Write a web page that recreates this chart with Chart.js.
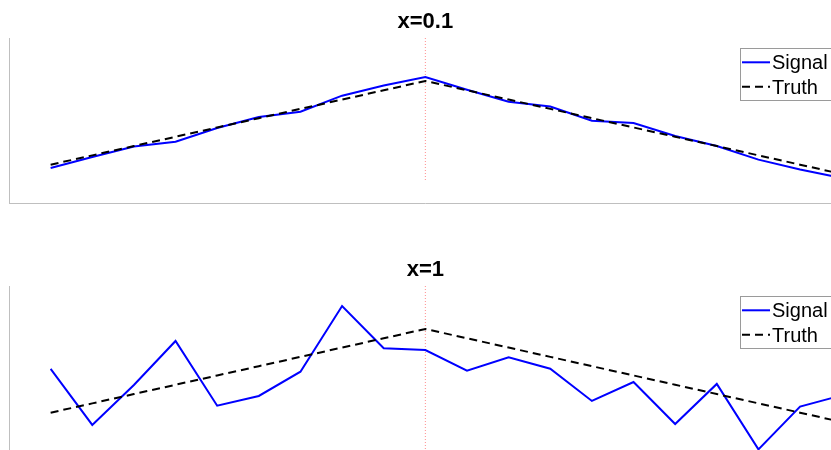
<!DOCTYPE html>
<html>
<head>
<meta charset="utf-8">
<script src="https://cdn.jsdelivr.net/npm/chart.js@4.4.1/dist/chart.umd.min.js"></script>
<style>
  html, body { margin: 0; padding: 0; background: #fff; overflow: hidden; width: 831px; height: 450px; }
  canvas.panel { position: absolute; left: 0; }
</style>
</head>
<body>
<canvas id="panelFine" class="panel" width="860" height="215" style="top:0px"></canvas>
<canvas id="panelCoarse" class="panel" width="860" height="215" style="top:248px"></canvas>
<script>
// Sample positions shared by both panels
const positions = [-9, -8, -7, -6, -5, -4, -3, -2, -1, 0, 1, 2, 3, 4, 5, 6, 7, 8, 9, 10];

// Noise-free reference profile (triangle peaking at 0)
const truth = [0.1, 0.2, 0.3, 0.4, 0.5, 0.6, 0.7, 0.8, 0.9, 1.0, 0.9, 0.8, 0.7, 0.6, 0.5, 0.4, 0.3, 0.2, 0.1, 0.0];

// Measured signal, low noise (x=0.1)
const signalFine = [0.065, 0.183, 0.296, 0.347, 0.495, 0.613, 0.670, 0.842, 0.952, 1.043,
                    0.906, 0.777, 0.726, 0.572, 0.548, 0.409, 0.301, 0.154, 0.048, -0.043];

// Measured signal, high noise (x=1)
const signalCoarse = [0.570, -0.032, 0.398, 0.871, 0.175, 0.280, 0.541, 1.247, 0.792, 0.774,
                      0.552, 0.696, 0.573, 0.226, 0.430, -0.022, 0.409, -0.294, 0.165, 0.286];

const panelTitles = ['x=0.1', 'x=1'];
const legendLabels = ['Signal', 'Truth'];

// Axis limits
const xRange = [-10, 10];
const yRange = [-0.312, 1.462];

// Vertical marker at the centre position: [top, bottom] per panel
const markerFine = [1.462, -0.075];
const markerCoarse = [1.462, -0.312];

const FONT = '"Liberation Sans", Arial, Helvetica, sans-serif';
const AXIS_COLOR = '#bfbfbf';

const toPoints = (ys) => positions.map((x, i) => ({ x: x, y: ys[i] }));

// Panel title and inline legend box
const decorations = {
  id: 'decorations',
  afterDatasetsDraw(chart, args, opts) {
    const ctx = chart.ctx;
    const area = chart.chartArea;
    ctx.save();
    // title
    ctx.fillStyle = '#000';
    ctx.font = 'bold 22px ' + FONT;
    ctx.textAlign = 'center';
    ctx.textBaseline = 'alphabetic';
    ctx.fillText(opts.title, (area.left + area.right) / 2, area.top - 9.7);

    // legend
    const bx = area.right - 102.2, by = area.top + 9.5, bw = 90.5, bh = 52;
    ctx.fillStyle = '#fff';
    ctx.fillRect(bx, by, bw, bh);
    ctx.strokeStyle = '#9a9a9a';
    ctx.lineWidth = 1;
    ctx.strokeRect(Math.round(bx) + 0.5, Math.round(by) + 0.5, Math.round(bw), Math.round(bh));

    const rows = [
      { label: opts.labels[0], ds: chart.data.datasets[1], lineY: 14.8, textY: 21.7 },
      { label: opts.labels[1], ds: chart.data.datasets[0], lineY: 39.3, textY: 46.7 }
    ];
    rows.forEach(r => {
      ctx.beginPath();
      ctx.setLineDash(r.ds.borderDash || []);
      ctx.strokeStyle = r.ds.borderColor;
      ctx.lineWidth = r.ds.borderWidth;
      ctx.moveTo(bx + 2.5, by + r.lineY);
      ctx.lineTo(bx + 30.5, by + r.lineY);
      ctx.stroke();
      ctx.setLineDash([]);
      ctx.fillStyle = '#000';
      ctx.font = '20px ' + FONT;
      ctx.textAlign = 'left';
      ctx.fillText(r.label, bx + 32.5, by + r.textY);
    });
    ctx.restore();
  }
};

function buildPanel(canvasId, signal, marker, title) {
  return new Chart(document.getElementById(canvasId), {
    type: 'scatter',
    data: {
      datasets: [
        {
          label: 'Truth',
          data: toPoints(truth),
          showLine: true,
          borderColor: '#000000',
          borderWidth: 2,
          borderDash: [8, 5],
          pointRadius: 0,
          order: 0
        },
        {
          label: 'Signal',
          data: toPoints(signal),
          showLine: true,
          borderColor: '#0000ff',
          borderWidth: 2,
          pointRadius: 0,
          order: 1
        },
        {
          label: 'centre',
          data: [{ x: 0, y: marker[0] }, { x: 0, y: marker[1] }],
          showLine: true,
          borderColor: 'rgba(255, 0, 0, 0.45)',
          backgroundColor: 'rgba(255, 0, 0, 0.45)',
          borderWidth: 1,
          borderDash: [1, 2],
          pointRadius: 0,
          order: 2
        }
      ]
    },
    options: {
      responsive: false,
      animation: false,
      devicePixelRatio: 1,
      layout: { autoPadding: false, padding: { left: 9, top: 38, right: 18.3, bottom: 12 } },
      scales: {
        x: {
          type: 'linear',
          min: xRange[0],
          max: xRange[1],
          ticks: { display: false },
          grid: { display: false, drawTicks: false },
          border: { display: true, color: AXIS_COLOR, width: 1 }
        },
        y: {
          type: 'linear',
          min: yRange[0],
          max: yRange[1],
          ticks: { display: false },
          grid: { display: false, drawTicks: false },
          border: { display: true, color: AXIS_COLOR, width: 1 }
        }
      },
      plugins: {
        legend: { display: false },
        tooltip: { enabled: false },
        title: { display: false },
        decorations: { title: title, labels: legendLabels }
      }
    },
    plugins: [decorations]
  });
}

buildPanel('panelFine', signalFine, markerFine, panelTitles[0]);
buildPanel('panelCoarse', signalCoarse, markerCoarse, panelTitles[1]);
</script>
</body>
</html>
